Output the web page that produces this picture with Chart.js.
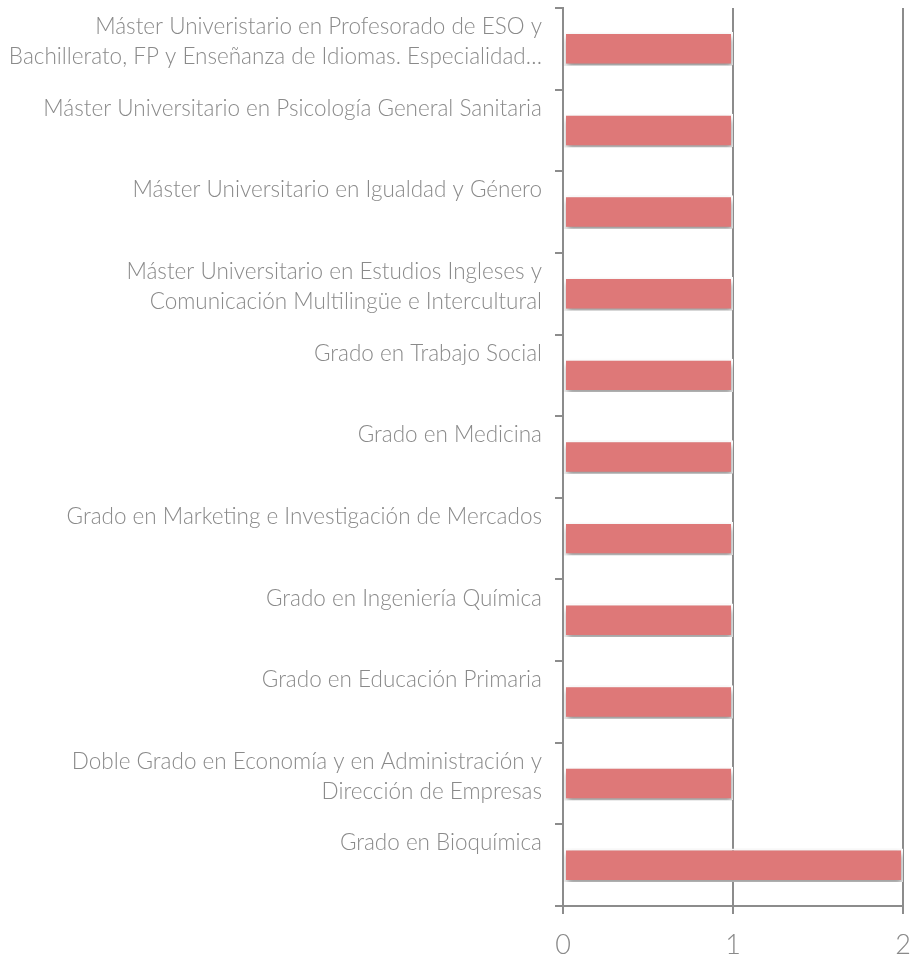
<!DOCTYPE html>
<html>
<head>
<meta charset="utf-8">
<script src="https://cdn.jsdelivr.net/npm/chart.js@4/dist/chart.umd.min.js"></script>
<style>
    html, body { margin: 0; padding: 0; background: #fff; }
    #wrap { width: 912px; height: 958px; }
</style>
</head>
<body>
<div id="wrap"><canvas id="chart"></canvas></div>
<script>
// Categories (top to bottom). Single line labels get an empty 2nd line so all labels top-align
const categories = [
    ['Máster Univeristario en Profesorado de ESO y', 'Bachillerato, FP y Enseñanza de Idiomas. Especialidad…'],
    ['Máster Universitario en Psicología General Sanitaria', ''],
    ['Máster Universitario en Igualdad y Género', ''],
    ['Máster Universitario en Estudios Ingleses y', 'Comunicación Multilingüe e Intercultural'],
    ['Grado en Trabajo Social', ''],
    ['Grado en Medicina', ''],
    ['Grado en Marketing e Investigación de Mercados', ''],
    ['Grado en Ingeniería Química', ''],
    ['Grado en Educación Primaria', ''],
    ['Doble Grado en Economía y en Administración y', 'Dirección de Empresas'],
    ['Grado en Bioquímica', '']
];
const values = [1, 1, 1, 1, 1, 1, 1, 1, 1, 1, 2];
const xTicks = [0, 1, 2];

const gridColor = '#8c8c8c';
const textColor = '#8a8a8a';
const fontFamily = 'Lato, "Noto Sans", sans-serif';

// soft drop shadow under the bars
const barShadow = {
    id: 'barShadow',
    beforeDatasetsDraw(chart) {
        const ctx = chart.ctx;
        ctx.save();
        ctx.shadowColor = 'rgba(0, 0, 0, 0.4)';
        ctx.shadowBlur = 6;
        ctx.shadowOffsetX = 1;
        ctx.shadowOffsetY = 4;
    },
    afterDatasetsDraw(chart) {
        chart.ctx.restore();
    }
};

const ctx = document.getElementById('chart').getContext('2d');
new Chart(ctx, {
    type: 'bar',
    data: {
        labels: categories,
        datasets: [{
            data: values,
            backgroundColor: '#de7878',
            borderColor: '#ffffff',
            borderWidth: 2,
            borderSkipped: false,
            barPercentage: 0.41,
            categoryPercentage: 1
        }]
    },
    plugins: [barShadow],
    options: {
        indexAxis: 'y',
        responsive: true,
        maintainAspectRatio: false,
        animation: false,
        layout: {
            padding: { top: 8, right: 0, bottom: 0, left: 0 }
        },
        plugins: {
            legend: { display: false },
            tooltip: { enabled: false }
        },
        scales: {
            x: {
                min: 0,
                max: 2,
                afterBuildTicks: (scale) => {
                    scale.ticks = xTicks.map(v => ({ value: v }));
                },
                afterFit: (scale) => {
                    scale.height = 52;
                    scale.paddingLeft = 0;
                    scale.paddingRight = 9;
                },
                grid: {
                    color: gridColor,
                    lineWidth: 2,
                    tickLength: 8
                },
                border: { color: gridColor, width: 2 },
                ticks: {
                    color: textColor,
                    padding: 15,
                    font: { family: fontFamily, size: 27, weight: 300 }
                }
            },
            y: {
                afterFit: (scale) => {
                    scale.width = 563;
                    scale.paddingTop = 0;
                    scale.paddingBottom = 0;
                },
                grid: {
                    drawOnChartArea: false,
                    color: gridColor,
                    lineWidth: 2,
                    tickLength: 8
                },
                border: { color: gridColor, width: 2 },
                ticks: {
                    color: textColor,
                    padding: 13,
                    labelOffset: -7,
                    font: { family: fontFamily, size: 22.5, weight: 300, lineHeight: 1.33 }
                }
            }
        }
    }
});
</script>
</body>
</html>
